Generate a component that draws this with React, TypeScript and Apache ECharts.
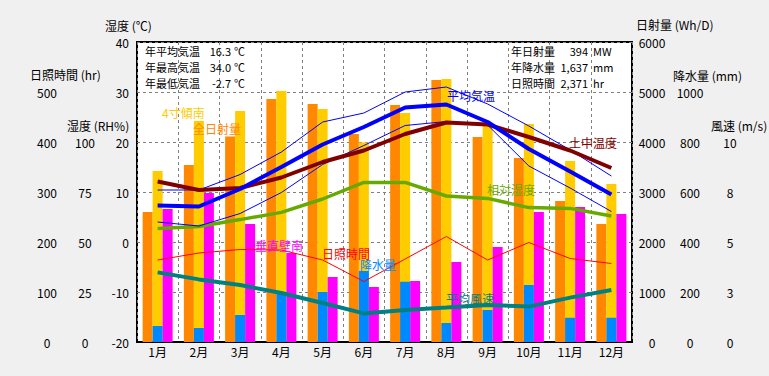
import React, { useEffect, useRef } from "react";
import * as echarts from "echarts";

const FONT = '"Noto Sans CJK JP", "Noto Sans", sans-serif';

const months = ["1月", "2月", "3月", "4月", "5月", "6月", "7月", "8月", "9月", "10月", "11月", "12月"];

// 日射量 (Wh/D)
const solarTotal = [2600, 3540, 4110, 4860, 4760, 4160, 4740, 5240, 4100, 3680, 2820, 2360];
const solarTilt = [3420, 4420, 4620, 5020, 4660, 3990, 4580, 5260, 4370, 4360, 3620, 3160];
const solarWall = [2660, 2980, 2360, 1780, 1300, 1100, 1220, 1600, 1900, 2600, 2700, 2560];
// 降水量 (mm)
const rain = [64, 56, 108, 200, 200, 284, 241, 76, 128, 228, 97, 97];
// 気温 (℃)
const avgTemp = [7.3, 7.1, 10.6, 15.0, 19.5, 23.0, 26.9, 27.5, 24.0, 18.6, 14.1, 9.5];
const maxTemp = [10.4, 10.4, 13.5, 18.0, 24.0, 25.8, 30.0, 31.0, 27.6, 23.2, 18.4, 13.2];
const minTemp = [4.0, 3.2, 5.7, 9.9, 15.5, 19.3, 23.3, 24.1, 23.4, 15.2, 10.8, 6.1];
const soilTemp = [12.1, 10.4, 10.8, 12.9, 16.0, 18.3, 21.6, 23.9, 23.5, 21.0, 18.3, 14.8];
// 相対湿度 (RH%)
const humidity = [56.8, 57.7, 61.2, 64.8, 71.5, 79.8, 79.8, 73.0, 71.8, 67.2, 66.8, 63.0];
// 日照時間 (hr)
const sunshine = [164, 178, 185, 184, 164, 121, 166, 211, 164, 199, 167, 157];
// 平均風速 (m/s)
const wind = [3.48, 3.13, 2.85, 2.45, 1.95, 1.43, 1.6, 1.72, 1.85, 1.77, 2.22, 2.6];

const statsLeft = [
  ["年平均気温", "16.3", "℃"],
  ["年最高気温", "34.0", "℃"],
  ["年最低気温", "-2.7", "℃"],
];
const statsRight = [
  ["年日射量", "394", "MW"],
  ["年降水量", "1,637", "mm"],
  ["日照時間", "2,371", "hr"],
];

const axisNames = [
  { text: "湿度 (℃)", x: 105, y: 25 },
  { text: "日照時間 (hr)", x: 30, y: 74 },
  { text: "湿度 (RH%)", x: 67, y: 125 },
  { text: "日射量 (Wh/D)", x: 636, y: 24 },
  { text: "降水量 (mm)", x: 673, y: 75 },
  { text: "風速 (m/s)", x: 711, y: 125 },
];

const seriesLabels = [
  { text: "4寸傾南", x: 162, y: 112, color: "#FFCC00" },
  { text: "全日射量", x: 193, y: 128, color: "#FF8800" },
  { text: "垂直壁南", x: 255, y: 245, color: "#FF00FF" },
  { text: "日照時間", x: 322, y: 253, color: "#FF0000" },
  { text: "降水量", x: 360, y: 264, color: "#0088FF" },
  { text: "平均気温", x: 447, y: 95, color: "#0000FF" },
  { text: "土中温度", x: 569, y: 142, color: "#800000" },
  { text: "相対湿度", x: 487, y: 189, color: "#66AA00" },
  { text: "平均風速", x: 446, y: 298, color: "#008080" },
];

function txt(text: string, x: number, y: number, fill: string, align = "left", size = 12) {
  return {
    type: "text",
    x,
    y,
    z: 100,
    silent: true,
    style: { text, fill, font: `${size}px ${FONT}`, align, verticalAlign: "middle" },
  };
}

export default function App() {
  const ref = useRef<HTMLDivElement>(null);
  useEffect(() => {
    if (!ref.current) return;
    const chart = echarts.init(ref.current, null, { renderer: "svg" });
    const gridLine = { color: "#808080", type: [3, 3], width: 1 };
    const hiddenAxis = {
      axisLine: { show: false },
      axisTick: { show: false },
      splitLine: { show: false },
    };
    const graphic: any[] = [];
    axisNames.forEach((a) => graphic.push(txt(a.text, a.x, a.y, "#000")));
    statsLeft.forEach((s, i) => {
      const y = 51 + i * 16;
      graphic.push(txt(s[0], 145, y, "#000", "left", 11));
      graphic.push(txt(s[1], 231, y, "#000", "right", 11));
      graphic.push(txt(s[2], 234, y, "#000", "left", 11));
    });
    statsRight.forEach((s, i) => {
      const y = 51 + i * 16;
      graphic.push(txt(s[0], 511, y, "#000", "left", 11));
      graphic.push(txt(s[1], 588, y, "#000", "right", 11));
      graphic.push(txt(s[2], 593, y, "#000", "left", 11));
    });
    seriesLabels.forEach((l) => graphic.push(txt(l.text, l.x, l.y, l.color)));

    const line = (name: string, data: number[], yAxisIndex: number, color: string, width: number, z: number) => ({
      type: "line",
      name,
      data,
      yAxisIndex,
      xAxisIndex: 0,
      symbol: "none",
      showSymbol: false,
      lineStyle: { color, width },
      z,
    });

    const lbl = (extra: any = {}) => ({
      color: "#000",
      fontSize: 12,
      margin: 0,
      align: "center",
      fontFamily: FONT,
      ...extra,
    });

    chart.setOption({
      animation: false,
      backgroundColor: "#F0F0F0",
      textStyle: { fontFamily: FONT },
      grid: {
        left: 137,
        top: 42,
        width: 495,
        height: 300,
        show: true,
        backgroundColor: "#FFFFFF",
        borderColor: "#000000",
        borderWidth: 2,
      },
      xAxis: [
        {
          type: "category",
          data: months,
          boundaryGap: true,
          axisLine: { show: true, onZero: false, lineStyle: { color: "#000", width: 2 } },
          axisTick: { show: false },
          axisLabel: { color: "#000", fontSize: 12, margin: 3, interval: 0, fontFamily: FONT },
          splitLine: { show: true, interval: 0, lineStyle: gridLine },
        },
        { type: "category", data: months, show: false, axisLine: { onZero: false } },
      ],
      yAxis: [
        {
          type: "value",
          min: -20,
          max: 40,
          interval: 10,
          position: "left",
          axisLine: { show: false },
          axisTick: { show: false },
          axisLabel: { color: "#000", fontSize: 12, margin: 8, fontFamily: FONT, formatter: (v: number) => String(v) },
          splitLine: { show: true, lineStyle: gridLine },
        },
        {
          type: "value",
          min: 0,
          max: 600,
          interval: 100,
          position: "left",
          offset: 90,
          ...hiddenAxis,
          axisLabel: lbl({ formatter: (v: number) => (v > 500 ? "" : String(v)) }),
        },
        {
          type: "value",
          min: 0,
          max: 150,
          interval: 25,
          position: "left",
          offset: 52,
          ...hiddenAxis,
          axisLabel: lbl({ formatter: (v: number) => (v > 100 ? "" : String(v)) }),
        },
        {
          type: "value",
          min: 0,
          max: 6000,
          interval: 1000,
          position: "right",
          offset: 20,
          ...hiddenAxis,
          axisLabel: lbl({ formatter: (v: number) => String(v) }),
        },
        {
          type: "value",
          min: 0,
          max: 1200,
          interval: 200,
          position: "right",
          offset: 58,
          ...hiddenAxis,
          axisLabel: lbl({ formatter: (v: number) => (v > 1000 ? "" : String(v)) }),
        },
        {
          type: "value",
          min: 0,
          max: 15,
          interval: 2.5,
          position: "right",
          offset: 98,
          ...hiddenAxis,
          axisLabel: lbl({ formatter: (v: number) => (v > 10 ? "" : String(Math.round(v))) }),
        },
      ],
      series: [
        { type: "bar", name: "全日射量", data: solarTotal, xAxisIndex: 0, yAxisIndex: 3, barWidth: 10, barGap: "0%", itemStyle: { color: "#FF8800" }, z: 2 },
        { type: "bar", name: "4寸傾南", data: solarTilt, xAxisIndex: 0, yAxisIndex: 3, barWidth: 10, barGap: "0%", itemStyle: { color: "#FFCC00" }, z: 2 },
        { type: "bar", name: "垂直壁南", data: solarWall, xAxisIndex: 0, yAxisIndex: 3, barWidth: 10, barGap: "0%", itemStyle: { color: "#FF00FF" }, z: 2 },
        { type: "bar", name: "降水量", data: rain, xAxisIndex: 1, yAxisIndex: 4, barWidth: 10, itemStyle: { color: "#0088FF" }, z: 3 },
        line("日照時間", sunshine, 1, "#FF0000", 1, 5),
        line("平均風速", wind, 5, "#008080", 4, 6),
        line("相対湿度", humidity, 2, "#66AA00", 3.5, 6),
        line("最高気温", maxTemp, 0, "#0000FF", 1, 6),
        line("最低気温", minTemp, 0, "#0000FF", 1, 6),
        line("土中温度", soilTemp, 0, "#800000", 4, 7),
        line("平均気温", avgTemp, 0, "#0000FF", 4, 8),
      ],
      graphic,
    });
    return () => chart.dispose();
  }, []);
  return (
    <div
      ref={ref}
      style={{ position: "fixed", left: 0, top: 0, width: 769, height: 376, background: "#F0F0F0" }}
    />
  );
}
